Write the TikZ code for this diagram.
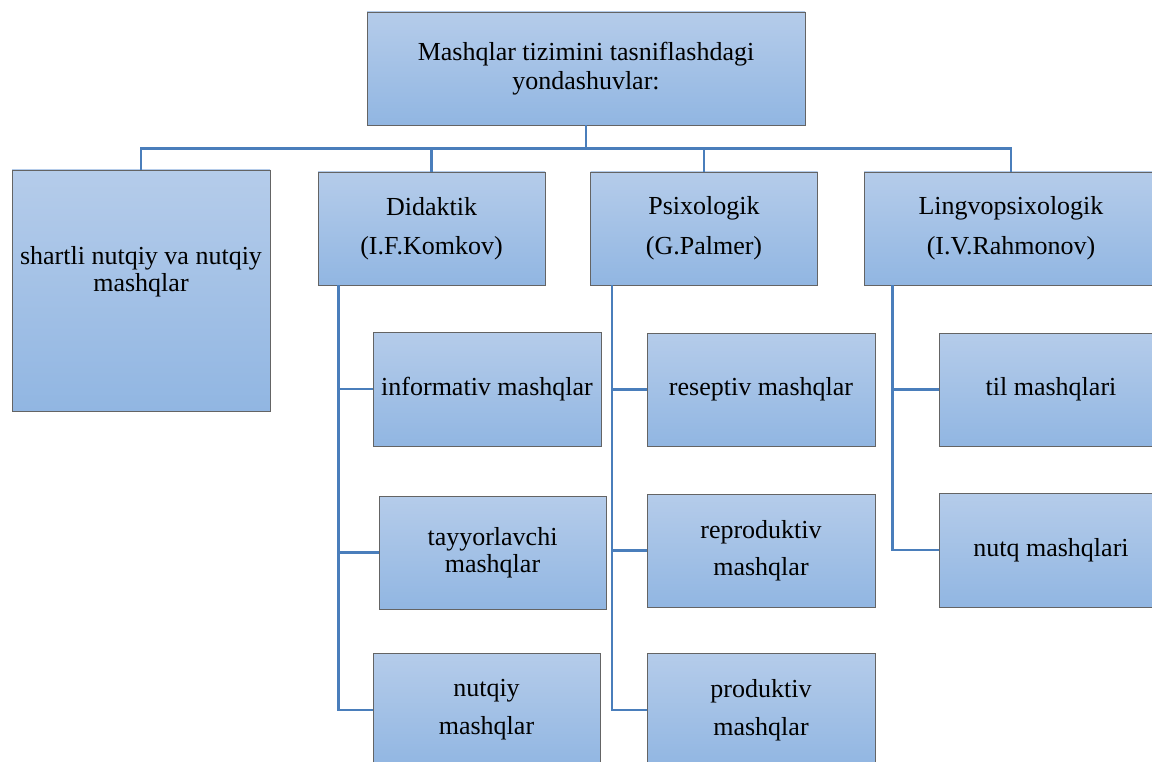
\documentclass[tikz,border=0pt]{standalone}
\usepackage{fontspec}
\setmainfont{Liberation Serif}
\usetikzlibrary{arrows.meta}

\definecolor{boxtop}{RGB}{181,204,234}
\definecolor{boxbottom}{RGB}{145,182,226}
\definecolor{boxedge}{RGB}{100,100,100}
\definecolor{linkblue}{RGB}{74,126,187}

\begin{document}
\begin{tikzpicture}[x=1pt,y=-1pt,
            box/.style={rectangle,draw=boxedge,line width=0.9pt,top color=boxtop,bottom color=boxbottom,
                        inner sep=0pt,align=center,font=\fontsize{26}{29}\selectfont,
                        minimum width=227pt,minimum height=113pt},
            link/.style={draw=linkblue,line width=2.6pt}]
            \useasboundingbox (0,0) rectangle (1152,762);
            \clip (0,0) rectangle (1152,762);

            \node[box,minimum width=438pt] (root) at (586,68.5) {Mashqlar tizimini tasniflashdagi\\yondashuvlar:};

            \node[box,minimum width=258pt,minimum height=241pt,text depth=44pt] (shartli) at (141,290.5) {shartli nutqiy va nutqiy\\[-2pt]mashqlar};
            \node[box] (didaktik) at (431.5,228.5) {Didaktik\\[10pt](I.F.Komkov)};
            \node[box] (psixologik) at (704,228.5) {Psixologik\\[11pt](G.Palmer)};
            \node[box,minimum width=294pt] (lingvo) at (1011,228.5) {Lingvopsixologik\\[11pt](I.V.Rahmonov)};

            \node[box,minimum width=228pt,minimum height=114pt] (informativ) at (487,389) {informativ mashqlar};
            \node[box] (tayyorlavchi) at (492.5,552.5) {tayyorlavchi\\[-2pt]mashqlar};
            \node[box,minimum height=114pt] (nutqiy) at (486.5,710) {nutqiy\\[9pt]mashqlar};

            \node[box,minimum width=228pt] (reseptiv) at (761,389.5) {reseptiv mashqlar};
            \node[box,minimum width=228pt] (reproduktiv) at (761,550.5) {reproduktiv\\[8pt]mashqlar};
            \node[box,minimum width=228pt,minimum height=114pt] (produktiv) at (761,710) {produktiv\\[9pt]mashqlar};

            \node[box,minimum width=224pt] (til) at (1051,389.5) {til mashqlari};
            \node[box,minimum width=224pt,minimum height=114pt] (nutq) at (1051,550) {nutq mashqlari};

            \draw[link] (root.south) -- ++(0,23) -| (shartli.north);
            \draw[link] (root.south) -- ++(0,23) -| (didaktik.north);
            \draw[link] (root.south) -- ++(0,23) -| (psixologik.north);
            \draw[link] (root.south) -- ++(0,23) -| (lingvo.north);

            \draw[link] ([xshift=21pt]didaktik.south west) |- (informativ.west);
            \draw[link] ([xshift=21pt]didaktik.south west) |- (tayyorlavchi.west);
            \draw[link] ([xshift=21pt]didaktik.south west) |- (nutqiy.west);

            \draw[link] ([xshift=22pt]psixologik.south west) |- (reseptiv.west);
            \draw[link] ([xshift=22pt]psixologik.south west) |- (reproduktiv.west);
            \draw[link] ([xshift=22pt]psixologik.south west) |- (produktiv.west);

            \draw[link] ([xshift=29pt]lingvo.south west) |- (til.west);
            \draw[link] ([xshift=29pt]lingvo.south west) |- (nutq.west);
\end{tikzpicture}
\end{document}
